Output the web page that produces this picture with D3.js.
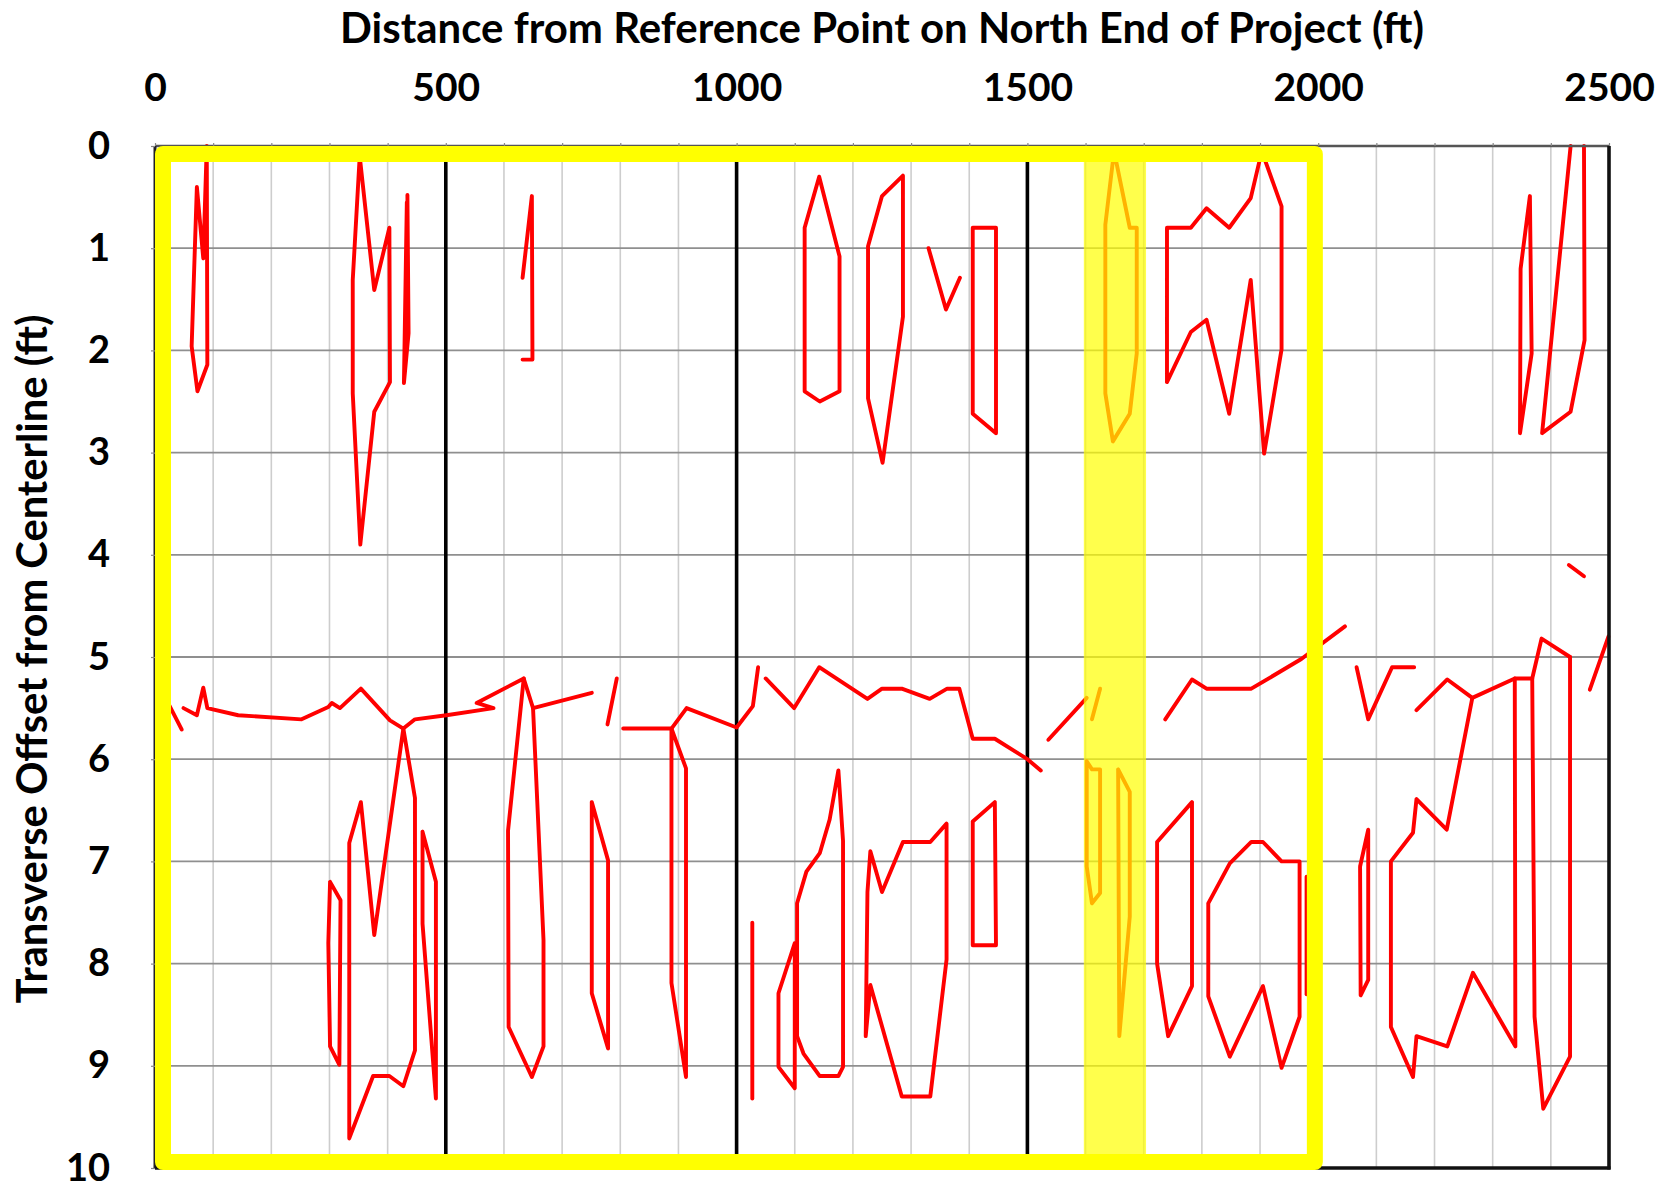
<!DOCTYPE html>
<html>
<head>
<meta charset="utf-8">
<title>Crack map</title>
<script src="https://cdn.jsdelivr.net/npm/d3@7"></script>
<style>
  html, body { margin: 0; padding: 0; background: #ffffff; }
  svg { display: block; }
  text { font-family: Lato, "Open Sans", "Liberation Sans", sans-serif; font-weight: 700; fill: #000; }
</style>
</head>
<body>
<svg id="chart" width="1675" height="1186"></svg>
<script>
// Axis tick labels
const distanceTicks = [0, 500, 1000, 1500, 2000, 2500];
const offsetTicks = [0, 1, 2, 3, 4, 5, 6, 7, 8, 9, 10];
// Section boundaries drawn as heavy lines
const sectionBreaks = [500, 1000, 1500];
// Highlighted station range (ft)
const highlightSpan = [1597, 1704];
// Extent of the reviewed area outlined in yellow: [[ft, offset], [ft, offset]]
const reviewedExtent = [[0, 0], [2008, 10.02]];

// Crack traces, each point = [distance from reference (ft), transverse offset (ft)]
// Upper lane (offset 0-4)
const crackA = [[63, 1.96], [72, 0.40], [83, 1.10], [89, 0], [90, 2.14], [73, 2.40], [63, 1.96]];
const crackB = [[353, 3.90], [340, 2.42], [340, 1.31], [352, 0.10], [377, 1.41], [403, 0.80], [404, 2.31], [377, 2.60], [353, 3.90]];
const crackC = [[434, 0.48], [436, 1.83], [428, 2.32], [433, 0.55]];
const crackD = [[632, 1.29], [648, 0.49], [649, 2.09], [632, 2.09]];
const crackE = [[1117, 0.80], [1142, 0.30], [1177, 1.08], [1177, 2.40], [1143, 2.50], [1117, 2.40], [1117, 0.80]];
const crackF = [[1226, 0.98], [1250, 0.49], [1286, 0.29], [1286, 1.67], [1251, 3.10], [1226, 2.47], [1226, 0.98]];
const crackG = [[1330, 1.00], [1360, 1.60], [1384, 1.29]];
const crackH = [[1406, 0.80], [1446, 0.80], [1446, 2.81], [1406, 2.62], [1406, 0.80]];
const crackI = [[1649, 0.05], [1676, 0.80], [1688, 0.80], [1688, 2.03], [1676, 2.62], [1647, 2.89], [1634, 2.42], [1634, 0.77], [1649, 0.05]];
const crackJ = [[1740, 2.31], [1740, 0.80], [1781, 0.80], [1808, 0.61], [1847, 0.80], [1884, 0.51], [1903, 0.05], [1937, 0.59], [1937, 1.99], [1907, 3.01], [1884, 1.31], [1847, 2.62], [1808, 1.70], [1781, 1.82], [1740, 2.31]];
const crackK = [[2348, 1.20], [2364, 0.49], [2367, 2.03], [2347, 2.81], [2348, 1.20]];
const crackL = [[2434, 0], [2385, 2.81], [2434, 2.60], [2458, 1.90], [2457, 0]];
const crackM = [[2431, 4.10], [2457, 4.21]];

// Longitudinal crack near the joint (offset 5-6)
const jointA = [[18, 5.40], [46, 5.71]];
const jointB = [[49, 5.50], [72, 5.57], [83, 5.30], [90, 5.50], [143, 5.57], [252, 5.61], [298, 5.49], [304, 5.45], [318, 5.50], [354, 5.31], [404, 5.62], [427, 5.70], [447, 5.61], [501, 5.57], [582, 5.50], [553, 5.45], [634, 5.21], [650, 5.50], [751, 5.35]];
const jointC = [[794, 5.21], [778, 5.66]];
const jointD = [[805, 5.70], [888, 5.70], [914, 5.50], [1000, 5.69], [1028, 5.48], [1037, 5.10]];
const jointE = [[1050, 5.21], [1099, 5.50], [1142, 5.10], [1225, 5.41], [1250, 5.31], [1284, 5.31], [1332, 5.41], [1362, 5.31], [1383, 5.31], [1406, 5.80], [1444, 5.80], [1500, 6.00], [1523, 6.11]];
const jointF = [[1536, 5.81], [1602, 5.40]];
const jointG = [[1625, 5.31], [1611, 5.61]];
const jointH = [[1737, 5.61], [1783, 5.22], [1808, 5.31], [1885, 5.31], [1971, 5.02], [2046, 4.70]];
const jointI = [[2066, 5.10], [2086, 5.61], [2127, 5.10], [2165, 5.10]];
const jointJ = [[2169, 5.52], [2222, 5.22], [2265, 5.40], [2338, 5.21], [2368, 5.21], [2384, 4.82], [2433, 5.00]];
const jointK = [[2467, 5.32], [2499, 4.80]];

// Lower lane (offset 6-10)
const lowerA = [[301, 7.20], [319, 7.38], [317, 8.99], [301, 8.81], [298, 7.80], [301, 7.20]];
const lowerB = [[427, 5.70], [447, 6.38], [447, 8.85], [427, 9.20], [403, 9.10], [375, 9.10], [334, 9.71], [334, 6.82], [354, 6.42], [377, 7.72], [427, 5.70]];
const lowerC = [[460, 6.71], [483, 7.20], [483, 9.32], [460, 7.61], [460, 6.71]];
const lowerD = [[634, 5.21], [607, 6.70], [608, 8.62], [648, 9.11], [668, 8.81], [668, 7.77], [650, 5.50]];
const lowerE = [[751, 6.42], [779, 6.99], [779, 8.83], [751, 8.29], [751, 6.42]];
const lowerF = [[888, 5.70], [888, 8.19], [913, 9.11], [913, 6.09], [888, 5.70]];
const lowerG = [[1027, 7.60], [1027, 9.32]];
const lowerH = [[1100, 7.80], [1072, 8.29], [1072, 9.01], [1100, 9.22], [1100, 7.80]];
const lowerI = [[1104, 7.41], [1120, 7.10], [1143, 6.92], [1160, 6.59], [1175, 6.11], [1183, 6.80], [1183, 9.01], [1175, 9.10], [1143, 9.10], [1115, 8.88], [1104, 8.71], [1104, 7.41]];
const lowerJ = [[1222, 8.71], [1225, 7.30], [1230, 6.90], [1250, 7.30], [1286, 6.81], [1333, 6.81], [1361, 6.63], [1361, 7.96], [1333, 9.30], [1284, 9.30], [1230, 8.21], [1222, 8.71]];
const lowerK = [[1406, 6.61], [1444, 6.42], [1446, 7.82], [1406, 7.82], [1406, 6.61]];
const lowerL = [[1602, 6.02], [1611, 6.10], [1625, 6.10], [1625, 7.31], [1611, 7.41], [1602, 7.05], [1602, 6.02]];
const lowerM = [[1656, 6.10], [1676, 6.32], [1676, 7.54], [1658, 8.71], [1656, 6.10]];
const lowerN = [[1783, 6.42], [1723, 6.81], [1723, 8.00], [1742, 8.71], [1783, 8.22], [1783, 6.42]];
const lowerO = [[1811, 7.41], [1848, 7.02], [1885, 6.81], [1905, 6.81], [1937, 7.00], [1968, 7.00], [1968, 8.52], [1937, 9.02], [1905, 8.22], [1848, 8.91], [1811, 8.32], [1811, 7.41]];
const lowerP = [[1980, 7.15], [1980, 8.30]];
const lowerQ = [[2072, 7.05], [2086, 6.69], [2086, 8.16], [2073, 8.31], [2072, 7.05]];
const lowerR = [[2265, 5.40], [2221, 6.69], [2169, 6.39], [2163, 6.72], [2125, 7.00], [2125, 8.62], [2163, 9.11], [2169, 8.71], [2222, 8.81], [2266, 8.09], [2339, 8.81], [2338, 5.21]];
const lowerS = [[2368, 5.21], [2372, 8.52], [2387, 9.42], [2433, 8.91], [2433, 5.00]];

const crackTraces = [
  crackA, crackB, crackC, crackD, crackE, crackF, crackG, crackH, crackI, crackJ, crackK, crackL, crackM,
  jointA, jointB, jointC, jointD, jointE, jointF, jointG, jointH, jointI, jointJ, jointK,
  lowerA, lowerB, lowerC, lowerD, lowerE, lowerF, lowerG, lowerH, lowerI, lowerJ, lowerK,
  lowerL, lowerM, lowerN, lowerO, lowerP, lowerQ, lowerR, lowerS
];

const svg = d3.select('#chart');
const x = d3.scaleLinear().domain([0, 2500]).range([155, 1609]);
const y = d3.scaleLinear().domain([0, 10]).range([146, 1168]);
const [xL, xR] = x.range();
const [yT, yB] = y.range();

// Gridlines: light verticals every 100 ft, darker horizontals every foot
const grid = svg.append('g');
grid.selectAll('line.vgrid').data(x.ticks(25)).join('line')
  .attr('class', 'vgrid')
  .attr('x1', d => x(d)).attr('x2', d => x(d))
  .attr('y1', yT).attr('y2', yB)
  .attr('stroke', '#cdcdcd').attr('stroke-width', 1.6);
grid.selectAll('line.hgrid').data(offsetTicks).join('line')
  .attr('class', 'hgrid')
  .attr('x1', xL).attr('x2', xR)
  .attr('y1', d => y(d)).attr('y2', d => y(d))
  .attr('stroke', '#8f8f8f').attr('stroke-width', 1.8);
grid.selectAll('line.section').data(sectionBreaks).join('line')
  .attr('class', 'section')
  .attr('x1', d => x(d)).attr('x2', d => x(d))
  .attr('y1', yT).attr('y2', yB)
  .attr('stroke', '#000').attr('stroke-width', 3.6);

// Crack traces
const line = d3.line().x(d => x(d[0])).y(d => y(d[1]));
svg.append('g').selectAll('path').data(crackTraces).join('path')
  .attr('d', line)
  .attr('fill', 'none')
  .attr('stroke', '#ff0000')
  .attr('stroke-width', 3.9)
  .attr('stroke-linejoin', 'round')
  .attr('stroke-linecap', 'round');

// Highlighted stations
svg.append('rect')
  .attr('x', x(highlightSpan[0])).attr('y', yT)
  .attr('width', x(highlightSpan[1]) - x(highlightSpan[0]))
  .attr('height', yB - yT)
  .attr('fill', '#ffff00').attr('opacity', 0.7);

// Plot frame
const frame = svg.append('g');
frame.append('line').attr('x1', xL).attr('x2', xR).attr('y1', yT).attr('y2', yT)
  .attr('stroke', '#555').attr('stroke-width', 2.6);
frame.append('line').attr('x1', xL).attr('x2', xL).attr('y1', yT).attr('y2', yB)
  .attr('stroke', '#222').attr('stroke-width', 3);
frame.append('line').attr('x1', xR).attr('x2', xR).attr('y1', yT).attr('y2', yB + 1.5)
  .attr('stroke', '#111').attr('stroke-width', 3.6);
frame.append('line').attr('x1', xL).attr('x2', xR + 1.5).attr('y1', yB).attr('y2', yB)
  .attr('stroke', '#111').attr('stroke-width', 3.6);

// Top axis: small ticks every 100 ft, labels every 500 ft
const topAxis = d3.axisTop(x).ticks(25).tickSize(3).tickPadding(42)
  .tickFormat(d => distanceTicks.includes(d) ? d : '');
const gTop = svg.append('g').attr('transform', `translate(0,${yT})`).call(topAxis);
gTop.select('.domain').remove();
gTop.selectAll('.tick line').attr('stroke', '#888').attr('stroke-width', 1.2);
gTop.selectAll('.tick text').attr('font-size', 39).attr('font-family', null).attr('fill', '#000');

// Left axis
const leftAxis = d3.axisLeft(y).tickValues(offsetTicks).tickSize(4).tickPadding(41);
const gLeft = svg.append('g').attr('transform', `translate(${xL},0)`).call(leftAxis);
gLeft.select('.domain').remove();
gLeft.selectAll('.tick line').attr('stroke', '#888').attr('stroke-width', 1.2);
gLeft.selectAll('.tick text').attr('font-size', 38).attr('font-family', null).attr('fill', '#000');

// Yellow outline around the reviewed area
const sw = 16;
svg.append('rect')
  .attr('x', x(reviewedExtent[0][0]) + sw / 2)
  .attr('y', y(reviewedExtent[0][1]) + sw / 2)
  .attr('width', x(reviewedExtent[1][0]) - x(reviewedExtent[0][0]) - sw)
  .attr('height', y(reviewedExtent[1][1]) - y(reviewedExtent[0][1]) - sw)
  .attr('fill', 'none')
  .attr('stroke', '#ffff00')
  .attr('stroke-width', sw)
  .attr('stroke-linejoin', 'round');

// Titles, scaled to their measured lengths
function fitWidth(sel, target) {
  const w = sel.node().getComputedTextLength();
  const fs = parseFloat(sel.attr('font-size'));
  sel.attr('font-size', fs * target / w);
}
const xTitle = svg.append('text')
  .attr('x', 882).attr('y', 43)
  .attr('text-anchor', 'middle')
  .attr('font-size', 38)
  .text('Distance from Reference Point on North End of Project (ft)');
fitWidth(xTitle, 1084);

const yTitle = svg.append('text')
  .attr('transform', 'translate(47,659) rotate(-90)')
  .attr('text-anchor', 'middle')
  .attr('font-size', 38)
  .text('Transverse Offset from Centerline (ft)');
fitWidth(yTitle, 689);
</script>
</body>
</html>
